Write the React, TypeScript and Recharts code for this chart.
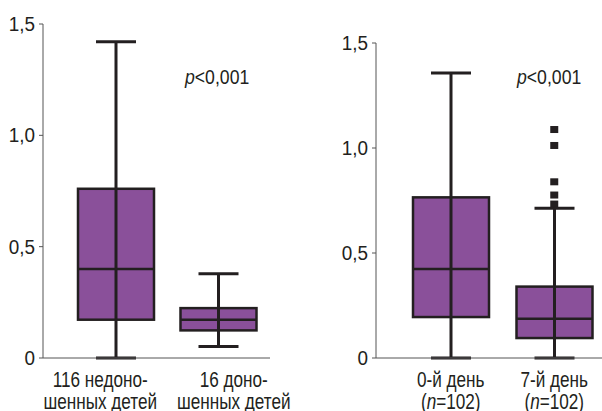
import { ComposedChart, Bar, Scatter, XAxis, YAxis } from 'recharts'

const FONT = "'Liberation Sans', Arial, sans-serif"
const INK = '#231f20'
const PURPLE = '#8a509a'

// left panel: premature vs term newborns
const leftCategories = ['116 недоно-|шенных детей', '16 доно-|шенных детей']
const leftMin = [0, 0.052]
const leftQ1 = [0.172, 0.124]
const leftMedian = [0.4, 0.172]
const leftQ3 = [0.76, 0.224]
const leftMax = [1.42, 0.378]

// right panel: day 0 vs day 7
const rightCategories = ['0-й день|(n=102)', '7-й день|(n=102)']
const rightMin = [0, 0]
const rightQ1 = [0.195, 0.095]
const rightMedian = [0.424, 0.187]
const rightQ3 = [0.765, 0.34]
const rightMax = [1.357, 0.713]
const rightOutliers = [1.088, 1.012, 0.839, 0.776, 0.733]

const yTicks = [0, 0.5, 1, 1.5]

type Row = { name: string; min: number; q1: number; median: number; q3: number; max: number }

function rows(cats: string[], mn: number[], q1: number[], md: number[], q3: number[], mx: number[]): Row[] {
  return cats.map((name, i) => ({ name, min: mn[i], q1: q1[i], median: md[i], q3: q3[i], max: mx[i] }))
}

const leftData = rows(leftCategories, leftMin, leftQ1, leftMedian, leftQ3, leftMax)
const rightData = rows(rightCategories, rightMin, rightQ1, rightMedian, rightQ3, rightMax)
const outlierData = rightOutliers.map((value) => ({ name: rightCategories[1], value }))

const fmt = (v: number) => (v === 0 ? '0' : v.toFixed(1).replace('.', ','))

// draws the whole box plot inside the range bar [min, max]
function BoxShape(props: any) {
  const { x, y, width, height, payload } = props
  const d = payload as Row
  const py = (v: number) => y + (height * (d.max - v)) / (d.max - d.min)
  const cx = x + width / 2
  const cap = 20
  return (
    <g>
      <line x1={cx} x2={cx} y1={py(d.max)} y2={py(d.min)} stroke={INK} strokeWidth={3} />
      <line x1={cx - cap} x2={cx + cap} y1={py(d.max)} y2={py(d.max)} stroke={INK} strokeWidth={3} />
      <line x1={cx - cap} x2={cx + cap} y1={py(d.min)} y2={py(d.min)} stroke={INK} strokeWidth={3} />
      <rect x={x} y={py(d.q3)} width={width} height={py(d.q1) - py(d.q3)} fill={PURPLE} stroke={INK} strokeWidth={2.5} />
      <line x1={x} x2={x + width} y1={py(d.median)} y2={py(d.median)} stroke={INK} strokeWidth={2.5} />
      <line x1={cx} x2={cx} y1={py(d.q3)} y2={py(d.q1)} stroke={INK} strokeWidth={3} />
    </g>
  )
}

function CatTick(props: any) {
  const { x, payload, index, shifts } = props
  const [a, b] = String(payload.value).split('|')
  const tx = x + (shifts ? shifts[index] : 0)
  const part = (s: string) => {
    const m = s.match(/^\((n)(=.*)$/)
    if (!m) return s
    return (
      <>
        (<tspan fontStyle="italic">n</tspan>
        {m[2]}
      </>
    )
  }
  return (
    <g transform={`translate(${tx},0)`}>
      <text transform="scale(0.78,1)" textAnchor="middle" fill={INK} fontSize={22} fontFamily={FONT}>
        <tspan x={0} y={387}>{part(a)}</tspan>
        <tspan x={0} y={409}>{part(b)}</tspan>
      </text>
    </g>
  )
}

function ValTick(props: any) {
  const { x, y, payload } = props
  return (
    <g transform={`translate(${x - 2},${y + 7})`}>
      <text transform="scale(0.9,1)" textAnchor="end" fill={INK} fontSize={21} fontFamily={FONT}>
        {fmt(payload.value)}
      </text>
    </g>
  )
}

function PLabel({ left, top }: { left: number; top: number }) {
  return (
    <div
      style={{
        position: 'absolute',
        left,
        top,
        fontFamily: FONT,
        fontSize: 21,
        color: INK,
        lineHeight: 1,
        transform: 'scaleX(0.84)',
        transformOrigin: '0 0',
        whiteSpace: 'nowrap',
      }}
    >
      <i>p</i>&lt;0,001
    </div>
  )
}

export default function App() {
  return (
    <div style={{ position: 'fixed', left: 0, top: 0, width: 602, height: 411, overflow: 'hidden', background: '#fff' }}>
      <div style={{ position: 'absolute', left: 0, top: 0 }}>
        <ComposedChart width={305} height={411} data={leftData} margin={{ top: 24, right: 35, bottom: 0, left: 0 }}>
          <XAxis
            dataKey="name"
            height={53}
            padding={{ left: 22, right: 0 }}
            stroke="#555"
            tickLine={false}
            interval={0}
            tick={<CatTick shifts={[-16, 15]} />}
          />
          <YAxis width={43} domain={[0, 1.5]} ticks={yTicks} stroke="#555" tickSize={4} tick={<ValTick />} />
          <Bar dataKey={(d: Row) => [d.min, d.max]} barSize={76} shape={<BoxShape />} isAnimationActive={false} />
        </ComposedChart>
      </div>
      <div style={{ position: 'absolute', left: 333, top: 0 }}>
        <ComposedChart width={273} height={411} data={rightData} margin={{ top: 43, right: 0, bottom: 0, left: 0 }}>
          <XAxis
            dataKey="name"
            height={53}
            padding={{ left: 23, right: 0 }}
            stroke="#555"
            tickLine={false}
            interval={0}
            allowDuplicatedCategory={false}
            tick={<CatTick />}
          />
          <YAxis width={43} domain={[0, 1.5]} ticks={yTicks} stroke="#555" tickSize={4} tick={<ValTick />} />
          <Scatter
            data={outlierData}
            dataKey="value"
            isAnimationActive={false}
            shape={(p: any) => <rect x={p.cx - 4} y={p.cy - 3.5} width={8} height={7} fill={INK} />}
          />
          <Bar dataKey={(d: Row) => [d.min, d.max]} barSize={76} shape={<BoxShape />} isAnimationActive={false} />
        </ComposedChart>
      </div>
      <PLabel left={185} top={66} />
      <PLabel left={517} top={66} />
    </div>
  )
}
